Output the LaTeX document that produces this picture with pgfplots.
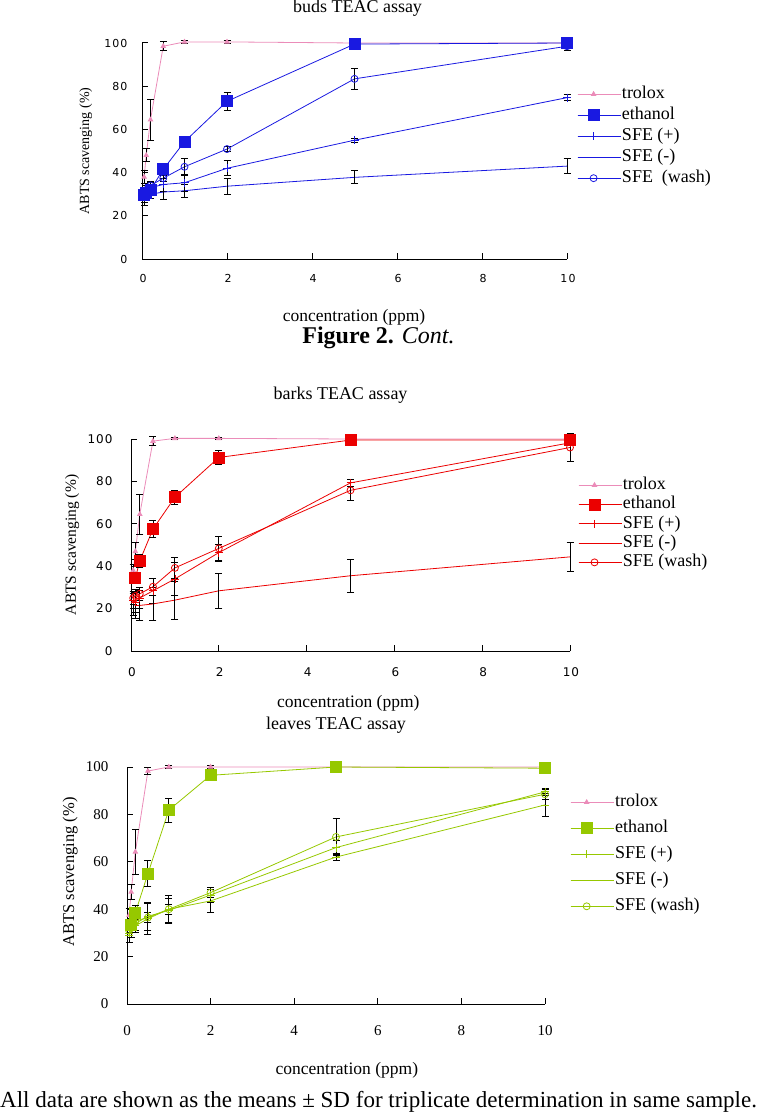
\documentclass[border=0pt]{standalone}
\usepackage{fontspec}
\setmainfont{Liberation Serif}
\setsansfont{Liberation Sans}
\newfontfamily\tickA[LetterSpace=10]{DejaVu Sans}
\newfontfamily\tickB[LetterSpace=8]{DejaVu Sans}
\usepackage{pgfplots}
\pgfplotsset{compat=1.18}

\definecolor{pinkc}{RGB}{235,140,185}
\definecolor{bluec}{RGB}{25,25,225}
\definecolor{redc}{RGB}{235,0,0}
\definecolor{greenc}{RGB}{150,200,0}

\pgfplotsset{
  panel/.style={
    scale only axis,
    axis x line*=bottom, axis y line*=left,
    xmin=0, xmax=10, ymin=0, ymax=100,
    xtick={0,2,4,6,8,10}, ytick={0,20,40,60,80,100},
    tick align=inside, major tick length=6pt,
    axis line style={line width=1pt, black},
    every tick/.style={black, line width=1pt},
    /pgf/number format/assume math mode=true,
    clip=false,
    legend cell align=left,
    legend style={draw=none, fill=none, anchor=north west, inner sep=0pt,
      font=\fontsize{18}{18}\selectfont,
      nodes={inner sep=1pt, text height=13pt, text depth=4pt}},
    legend image code/.code={\draw[mark repeat=2,mark phase=2,##1]
      plot coordinates {(0pt,0pt) (16pt,0pt) (32pt,0pt)};
      \path (0pt,0pt) -- (43pt,0pt);},
    title style={font=\fontsize{18}{18}\selectfont},
    xlabel style={font=\fontsize{17.5}{17.5}\selectfont},
    xlabel={concentration (ppm)},
    ylabel={ABTS scavenging (\%)},
  },
  eb/.style={error bars/y dir=both, error bars/y explicit,
    error bars/error bar style={black, line width=0.9pt},
    error bars/error mark options={rotate=90, black, mark size=3.5pt, line width=0.9pt}},
  tro/.style={eb, color=pinkc, line width=0.8pt, mark=triangle*, mark size=2.5pt,
    mark options={fill=pinkc}},
  eth/.style={eb, color=#1, line width=0.8pt, mark=square*, mark size=5.5pt,
    mark options={fill=#1}},
  sfep/.style={eb, color=#1, line width=0.8pt, mark=+, mark size=4pt},
  sfem/.style={eb, color=#1, line width=0.8pt, mark=none},
  wash/.style={eb, color=#1, line width=0.8pt, mark=o, mark size=3.5pt},
}

\begin{document}
\begin{tikzpicture}[x=1pt,y=1pt]
\useasboundingbox (0,0) rectangle (760,-1118);

% buds
\begin{axis}[panel, at={(142pt,-259pt)}, anchor=south west,
  width=425pt, height=216pt,
  title={buds TEAC assay},
  title style={at={(axis description cs:0.5,1)}, anchor=base, yshift=24pt, xshift=3pt},
  xlabel style={at={(axis description cs:0.499,0)}, anchor=base, yshift=-62pt},
  ylabel style={at={(axis description cs:-0.132,0.5)}, anchor=center,
    font=\fontsize{14}{14}\selectfont},
  tick label style={font=\tickA\fontsize{11}{11}\selectfont},
  yticklabel style={xshift=-11pt}, xticklabel style={yshift=-12pt, xshift=1pt},
  legend style={at={(1.0235,0.808)}, row sep=2pt}]
\addplot[tro] table[x=x,y=y,y error=e] {
x y e
0.05 38 3
0.1 48 3
0.2 64.5 9.5
0.5 98.5 2
1 100.5 0.6
2 100.5 0.6
5 100 0.3
10 100 0.3
};
\addplot[eth=bluec] table[x=x,y=y,y error=e] {
x y e
0.05 29.5 1.5
0.1 30.5 1.5
0.2 32 1.5
0.5 41.5 1.5
1 54.3 1.5
2 73 4
5 99.5 0.5
10 100 0.5
};
\addplot[sfep=bluec] table[x=x,y=y,y error=e] {
x y e
0.05 29 3
0.1 31 3
0.2 33 2.5
0.5 34.5 3
1 35.3 4
2 42 3.5
5 55 1
10 74.7 1.5
};
\addplot[sfem=bluec] table[x=x,y=y,y error=e] {
x y e
0.05 28 3
0.1 29 2
0.2 30 2
0.5 31 3.5
1 31.6 3
2 33.7 3.6
5 37.8 3
10 43 3.5
};
\addplot[wash=bluec] table[x=x,y=y,y error=e] {
x y e
0.05 30 2
0.1 32 2
0.2 34 2
0.5 37.4 1.5
1 42.7 4
2 50.9 1
5 83.4 4.8
10 98.5 2
};
\legend{trolox, ethanol, SFE (+), SFE (-), SFE\ \ (wash)}
\end{axis}

% barks
\begin{axis}[panel, at={(131pt,-651pt)}, anchor=south west,
  width=439pt, height=212pt,
  title={barks TEAC assay},
  title style={at={(axis description cs:0.5,1)}, anchor=base, yshift=34pt, xshift=-10pt},
  xlabel style={at={(axis description cs:0.495,0)}, anchor=base, yshift=-56pt},
  ylabel style={at={(axis description cs:-0.134,0.5)}, anchor=center,
    font=\fontsize{15.5}{15.5}\selectfont},
  tick label style={font=\tickB\fontsize{12}{12}\selectfont},
  yticklabel style={xshift=-15pt}, xticklabel style={yshift=-13pt, xshift=1pt},
  legend style={at={(1.018,0.828)}, row sep=0.3pt}]
\addplot[tro] table[x=x,y=y,y error=e] {
x y e
0.05 38 3
0.1 47 4
0.2 64.5 9.5
0.5 99 2
1 100.3 0.5
2 100.3 0.5
5 100 0.3
10 100 0.3
};
\addplot[eth=redc] table[x=x,y=y,y error=e] {
x y e
0.1 34.5 2.5
0.2 42.5 3
0.5 57.5 4
1 72.5 3.3
2 91.3 3.4
5 99.5 0.5
10 99.5 1
};
\addplot[sfep=redc] table[x=x,y=y,y error=e] {
x y e
0.05 24 4
0.1 23 5
0.2 25 5
0.5 28.4 6
1 34 8
2 46.4 4
5 79.3 1.5
10 98.2 1
};
\addplot[sfem=redc] table[x=x,y=y,y error=e] {
x y e
0.05 22 5
0.1 21.5 6
0.2 21.5 7
0.5 22.2 8
1 24 9
2 28.4 8.3
5 35.5 7.9
10 44.4 7
};
\addplot[wash=redc] table[x=x,y=y,y error=e] {
x y e
0.05 25 3
0.1 26 3
0.2 27 3
0.5 30.3 4
1 39.2 5
2 48.4 5.6
5 75.8 5
10 96 6.5
};
\legend{trolox, ethanol, SFE (+), SFE (-), SFE (wash)}
\end{axis}

% leaves
\begin{axis}[panel, at={(127pt,-1004pt)}, anchor=south west,
  width=418pt, height=237pt,
  title={leaves TEAC assay},
  title style={at={(axis description cs:0.5,1)}, anchor=base, yshift=32pt},
  xlabel style={at={(axis description cs:0.526,0)}, anchor=base, yshift=-70pt},
  ylabel style={at={(axis description cs:-0.136,0.557)}, anchor=center,
    font=\fontsize{16.5}{16.5}\selectfont},
  tick label style={font=\fontsize{15}{15}\selectfont},
  yticklabel style={xshift=-15pt}, xticklabel style={yshift=-18pt},
  legend style={at={(1.06,0.892)}, row sep=7pt}]
\addplot[tro] table[x=x,y=y,y error=e] {
x y e
0.05 37.5 3
0.1 47.3 3
0.2 64.2 9.4
0.5 98.3 1.5
1 100 0.5
2 100 0.5
5 100 0.3
10 100 0.3
};
\addplot[eth=greenc] table[x=x,y=y,y error=e] {
x y e
0.1 33.3 3
0.2 38.5 3
0.5 55 5.5
1 81.8 5
2 96.5 0.5
5 100 0.3
10 99.5 0.3
};
\addplot[sfep=greenc] table[x=x,y=y,y error=e] {
x y e
0.05 30 4
0.1 32 4
0.2 34 3
0.5 37 6
1 39.5 5
2 46 3
5 66 3
10 89.5 1.5
};
\addplot[sfem=greenc, mark=-, mark size=4pt] table[x=x,y=y,y error=e] {
x y e
0.05 29 3
0.1 31 3
0.2 33 3
0.5 36 6.5
1 40 6
2 43.5 5
5 62 1.5
10 84 5
};
\addplot[wash=greenc] table[x=x,y=y,y error=e] {
x y e
0.05 31 2
0.1 33 2
0.2 35 2
0.5 36.5 2
1 40 2
2 47 2
5 70.5 8
10 88.5 2
};
\legend{trolox, ethanol, SFE (+), SFE (-), SFE (wash)}
\end{axis}

\node[anchor=base, font=\bfseries\fontsize{24}{24}\selectfont] at (378.5,-343)
  {Figure 2. {\normalfont\itshape Cont.}};
\node[anchor=base west, inner sep=0pt, font=\fontsize{23}{23}\selectfont] at (0,-1107)
  {All data are shown as the means ± SD for triplicate determination in same sample.};
\end{tikzpicture}
\end{document}
